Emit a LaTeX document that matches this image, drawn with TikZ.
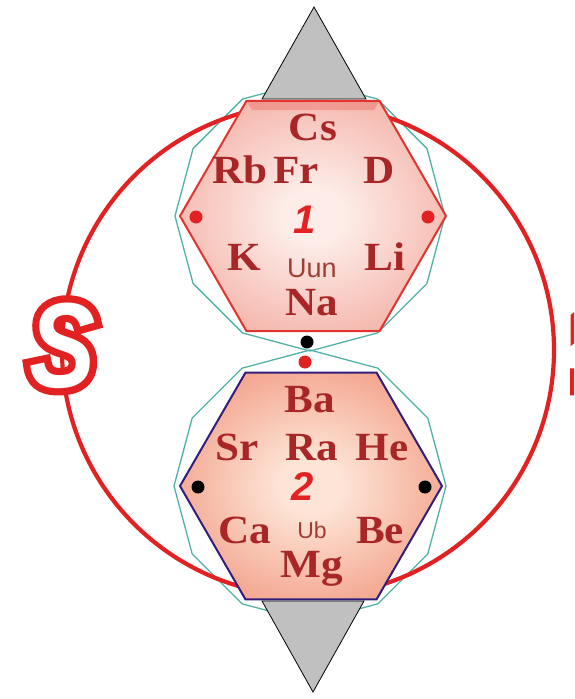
\documentclass[tikz,border=0pt]{standalone}
\usepackage{fontspec}
\setmainfont{Liberation Serif}
\newfontfamily\elfont[FakeStretch=1.08]{Liberation Serif Bold}
\newfontfamily\tinyfont{Liberation Sans}
\newfontfamily\digitfont{Liberation Sans Bold Italic}
\newfontfamily\ringfont[FakeStretch=0.82]{Liberation Sans Bold Italic}
\newfontfamily\ringrimfont[FakeStretch=0.82, FakeBold=12]{Liberation Sans Bold Italic}
\newfontfamily\edgefont[FakeStretch=0.82]{Liberation Sans Bold}
\newfontfamily\edgerimfont[FakeStretch=0.82, FakeBold=12]{Liberation Sans Bold}

\definecolor{ringred}{RGB}{226,34,34}
\definecolor{elred}{RGB}{168,38,38}
\definecolor{tinyred}{RGB}{158,62,52}
\definecolor{rimred}{RGB}{224,52,46}
\definecolor{rimblue}{RGB}{48,30,122}
\definecolor{cyanline}{RGB}{82,176,166}
\definecolor{pinkout}{RGB}{240,152,138}
\definecolor{pinkin}{RGB}{253,236,232}
\definecolor{salmonout}{RGB}{238,130,102}
\definecolor{salmonin}{RGB}{253,228,214}
\definecolor{tipgray}{RGB}{192,192,192}

\pgfdeclareradialshading{glowone}{\pgfpoint{0bp}{0bp}}{color(0bp)=(pinkin); color(6bp)=(pinkin); color(40bp)=(pinkout); color(50bp)=(pinkout)}
\pgfdeclareradialshading{glowtwo}{\pgfpoint{0bp}{0bp}}{color(0bp)=(salmonin); color(6bp)=(salmonin); color(40bp)=(salmonout); color(50bp)=(salmonout)}

\begin{document}
\begin{tikzpicture}[
  x=1pt, y=-1pt,
  elem/.style={font=\elfont\fontsize{40}{40}\selectfont, text=elred, inner sep=0pt, anchor=base},
  tiny/.style={font=\tinyfont\fontsize{27}{27}\selectfont, text=tinyred, inner sep=0pt, anchor=base},
  digit/.style={font=\digitfont\fontsize{40}{40}\selectfont, text=ringred, inner sep=0pt, anchor=base},
  ringrim/.style={font=\ringrimfont\fontsize{121}{121}\selectfont, text=ringred, inner sep=0pt, anchor=base west},
  ringlabel/.style={font=\ringfont\fontsize{121}{121}\selectfont, text=white, inner sep=0pt, anchor=base west},
  dot/.style={circle, inner sep=0pt, minimum size=13pt},
  tip/.style={fill=tipgray, draw=black, line width=0.8pt, line join=miter},
  dodeca/.style={draw=cyanline, line width=1.3pt}
]
\useasboundingbox (0,0) rectangle (574,699);
\clip (0,0) rectangle (574,699);

% twelve-sided frames
\draw[dodeca, shift={(310,216)}] plot[samples at={0,30,...,330}, variable=\a] (\a:135) -- cycle;
\draw[dodeca, shift={(310,486)}] plot[samples at={0,30,...,330}, variable=\a] (\a:136) -- cycle;

% ring
\draw[ringred, line width=4.2pt] (308,350) circle[radius=246];

% pointers at top and bottom
\filldraw[tip] (262,99) -- (314,7) -- (366,99) -- cycle;
\filldraw[tip] (262,601) -- (313,692) -- (364,601) -- cycle;

% hexagons
\shadedraw[shading=glowone, draw=rimred, line width=2pt, shift={(313,216)}]
  plot[samples at={0,60,...,300}, variable=\a] (\a:133) -- cycle;
\fill[rimred, opacity=0.25] (246.5,100.8) -- (379.5,100.8) -- (374,110) -- (252,110) -- cycle;
\shadedraw[shading=glowtwo, draw=rimblue, line width=2pt, shift={(311,486)}]
  plot[samples at={0,60,...,300}, variable=\a] (\a:131) -- cycle;

% dots
\node[dot, fill=ringred] (dotAl) at (196,217) {};
\node[dot, fill=ringred] (dotAr) at (428,217) {};
\node[dot, fill=black] (dotmid) at (307,342) {};
\node[dot, fill=ringred] (dotlow) at (305,362) {};
\node[dot, fill=black] (dotBl) at (198,487) {};
\node[dot, fill=black] (dotBr) at (425,487) {};

% group 1
\node[elem] (Cs) at (313,140) {Cs};
\node[elem] (Rb) at (240,183) {Rb};
\node[elem] (Fr) at (296,183) {Fr};
\node[elem] (D)  at (379,183) {D};
\node[digit] (one) at (305,233) {1};
\node[elem] (K)  at (244,270) {K};
\node[tiny] (Uun) at (312,277) {Uun};
\node[elem] (Li) at (385,270) {Li};
\node[elem] (Na) at (312,315) {Na};

% group 2
\node[elem] (Ba) at (310,412) {Ba};
\node[elem] (Sr) at (237,460) {Sr};
\node[elem] (Ra) at (312,460) {Ra};
\node[elem] (He) at (382,460) {He};
\node[digit] (two) at (303,500) {2};
\node[elem] (Ca) at (245,543) {Ca};
\node[tiny, font=\tinyfont\fontsize{23}{23}\selectfont] (Ub) at (312,538) {Ub};
\node[elem] (Be) at (380,543) {Be};
\node[elem] (Mg) at (312,577) {Mg};

% ring labels
\node[ringrim] (labSrim) at (29,387) {S};
\node[ringlabel] (labS) at (29,387) {S};
\node[ringrim, font=\edgerimfont\fontsize{121}{121}\selectfont] (labTrim) at (571,388) {1};
\node[ringlabel, font=\edgefont\fontsize{121}{121}\selectfont] (labT) at (571,388) {1};
\end{tikzpicture}
\end{document}
